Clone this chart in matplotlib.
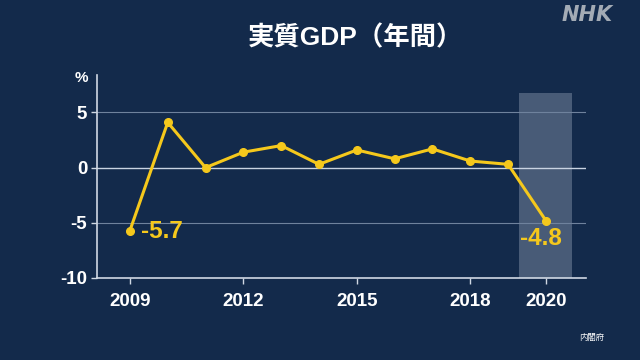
import matplotlib
matplotlib.use("Agg")
import matplotlib.pyplot as plt

years = [2009, 2010, 2011, 2012, 2013, 2014, 2015, 2016, 2017, 2018, 2019, 2020]
growth = [-5.7, 4.1, 0.0, 1.4, 2.0, 0.3, 1.6, 0.8, 1.7, 0.6, 0.3, -4.8]
xticks = [2009, 2012, 2015, 2018, 2020]
yticks = [5, 0, -5, -10]
title = "実質GDP（年間）"
source = "内閣府"

plt.rcParams['font.family'] = ['Liberation Sans', 'Noto Sans CJK JP', 'DejaVu Sans']
bg = "#132a4b"
yellow = "#f5c81c"
fig = plt.figure(figsize=(6.4, 3.6), dpi=100, facecolor=bg)
ax = fig.add_axes([0.1516, 0.2278, 0.764, 0.564], facecolor=bg)

ax.set_xlim(2008.13, 2021.06)
ax.set_ylim(-10, 8.4)

ax.axvspan(2020 - 0.7, 2020 + 0.7, ymin=0, ymax=(6.8 + 10) / 18.4,
           color="#8a99ad", alpha=0.45, lw=0, zorder=1)

for v in [5, -5]:
    ax.axhline(v, color="#6f829d", lw=0.8, zorder=2)
ax.axhline(0, color="#c9d3e2", lw=1.0, zorder=2)

ax.plot(years, growth, color=yellow, lw=2.2, marker="o", ms=5.5, zorder=4)

ax.text(years[0] + 0.3, growth[0] - 0.1, f"{growth[0]}", color=yellow,
        fontsize=17.5, fontweight="bold", va="center", ha="left", zorder=5)
ax.text(years[-1] - 0.13, growth[-1] - 1.6, f"{growth[-1]}", color=yellow,
        fontsize=17.5, fontweight="bold", va="center", ha="center", zorder=5)

ax.set_xticks(xticks)
ax.set_xticklabels([str(x) for x in xticks])
ax.set_yticks(yticks)
ax.set_yticklabels([str(y) for y in yticks])
ax.tick_params(colors="#d0d8e4", labelcolor="white", labelsize=13.5, length=4, width=1)
ax.tick_params(axis="x", pad=7)
ax.tick_params(axis="y", pad=3)
for lab in ax.get_xticklabels() + ax.get_yticklabels():
    lab.set_fontweight("bold")

for s in ["top", "right"]:
    ax.spines[s].set_visible(False)
for s in ["left", "bottom"]:
    ax.spines[s].set_color("#d0d8e4")
    ax.spines[s].set_linewidth(1.2)

fig.text(0.127, 0.783, "%", color="white", fontsize=11, fontweight="bold", ha="center", va="center")
fig.text(0.555, 0.896, title, color="white", fontsize=19, fontweight="bold", ha="center", va="center")
fig.text(0.957, 0.958, "NHK", color="#a3abb5", fontsize=15, fontweight="bold", style="italic",
         family="DejaVu Sans", ha="right", va="center")
fig.text(0.925, 0.064, source, color="white", fontsize=6, ha="center", va="center",
         family=["Noto Sans CJK JP", "DejaVu Sans"])

fig.savefig("out.png", dpi=100, facecolor=bg)
